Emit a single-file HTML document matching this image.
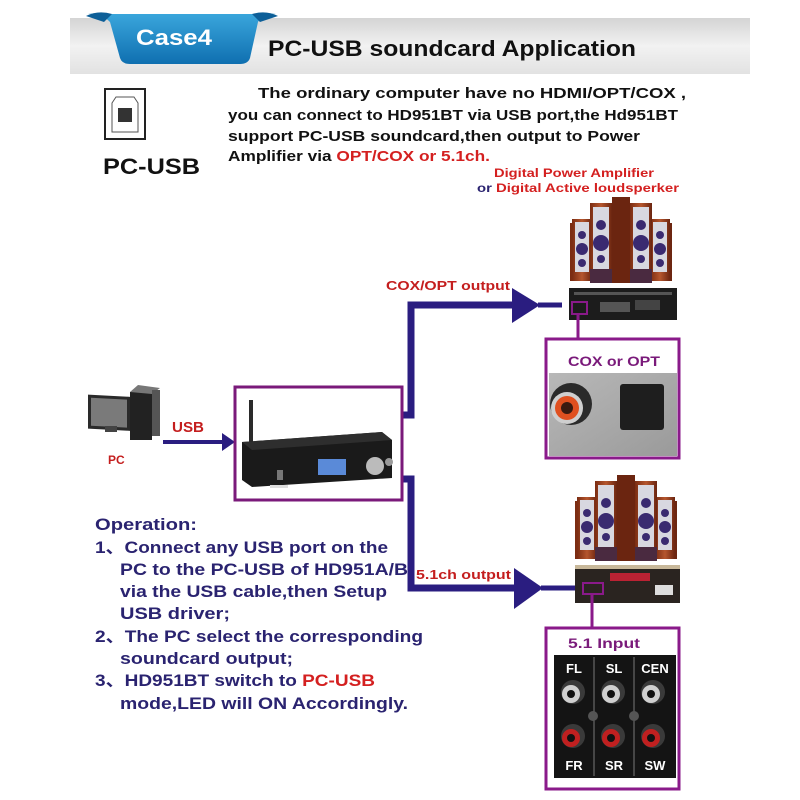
<!DOCTYPE html>
<html><head><meta charset="utf-8"><style>html,body{margin:0;padding:0;background:#fff}svg{display:block}</style></head><body>
<svg width="800" height="800" viewBox="0 0 800 800" xmlns="http://www.w3.org/2000/svg" font-family="'Liberation Sans', 'Noto Sans CJK SC', sans-serif" font-weight="bold">
<defs>
<linearGradient id="hdr" x1="0" y1="0" x2="0" y2="1"><stop offset="0" stop-color="#d4d4d4"/><stop offset="0.5" stop-color="#f2f2f2"/><stop offset="1" stop-color="#e2e2e2"/></linearGradient>
<linearGradient id="tab" x1="0" y1="0" x2="0" y2="1"><stop offset="0" stop-color="#3aa6dc"/><stop offset="1" stop-color="#0f6fb0"/></linearGradient>
<linearGradient id="wood" x1="0" y1="0" x2="1" y2="0"><stop offset="0" stop-color="#7a2c12"/><stop offset="0.5" stop-color="#b5562e"/><stop offset="1" stop-color="#6b2510"/></linearGradient>
<linearGradient id="metal" x1="0" y1="0" x2="1" y2="1"><stop offset="0" stop-color="#b8b8b8"/><stop offset="1" stop-color="#9a9a9a"/></linearGradient>
<g id="spk">
<rect x="0" y="26" width="102" height="58" fill="url(#wood)"/>
<rect x="42" y="0" width="18" height="86" fill="#6b2510"/>
<rect x="2" y="22" width="20" height="62" fill="url(#wood)"/><rect x="5" y="25" width="14" height="50" fill="#d8d8e0"/>
<rect x="80" y="22" width="20" height="62" fill="url(#wood)"/><rect x="83" y="25" width="14" height="50" fill="#d8d8e0"/>
<rect x="20" y="6" width="22" height="80" fill="url(#wood)"/><rect x="23" y="10" width="16" height="62" fill="#d8d8e0"/>
<rect x="60" y="6" width="22" height="80" fill="url(#wood)"/><rect x="63" y="10" width="16" height="62" fill="#d8d8e0"/>
<circle cx="12" cy="38" r="4" fill="#3a2a70"/><circle cx="12" cy="52" r="6" fill="#3a2a70"/><circle cx="12" cy="66" r="4" fill="#3a2a70"/>
<circle cx="90" cy="38" r="4" fill="#3a2a70"/><circle cx="90" cy="52" r="6" fill="#3a2a70"/><circle cx="90" cy="66" r="4" fill="#3a2a70"/>
<circle cx="31" cy="28" r="5" fill="#3a2a70"/><circle cx="31" cy="46" r="8" fill="#3a2a70"/><circle cx="31" cy="62" r="4" fill="#3a2a70"/>
<circle cx="71" cy="28" r="5" fill="#3a2a70"/><circle cx="71" cy="46" r="8" fill="#3a2a70"/><circle cx="71" cy="62" r="4" fill="#3a2a70"/>
<rect x="20" y="72" width="22" height="14" fill="#4a2a40"/><rect x="60" y="72" width="22" height="14" fill="#4a2a40"/>
</g>
</defs>

<rect x="70" y="18" width="680" height="56" fill="url(#hdr)"/>
<path d="M88 14 Q100 12 110 22 L120 58 Q122 64 130 64 L240 64 Q248 64 250 58 L258 22 Q264 12 276 14 Z" fill="url(#tab)"/>
<path d="M86 16 Q98 10 112 14 L104 22 Z M278 16 Q266 10 252 14 L260 22 Z" fill="#0d5f98"/>
<text x="136" y="45" font-size="22" fill="#fff" textLength="76" lengthAdjust="spacingAndGlyphs">Case4</text>
<text x="268" y="56" font-size="22" fill="#111" textLength="368" lengthAdjust="spacingAndGlyphs">PC-USB soundcard Application</text>

<rect x="105" y="89" width="40" height="50" fill="#fff" stroke="#222" stroke-width="2"/>
<path d="M116 97 L134 97 L138 103 L138 132 L112 132 L112 103 Z" fill="none" stroke="#555" stroke-width="1"/>
<rect x="118" y="108" width="14" height="14" fill="#333"/>
<text x="103" y="174" font-size="22" fill="#111" textLength="97" lengthAdjust="spacingAndGlyphs">PC-USB</text>

<g font-size="15" fill="#111">
<text x="258" y="98" textLength="428" lengthAdjust="spacingAndGlyphs">The ordinary computer have no HDMI/OPT/COX ,</text>
<text x="228" y="120" textLength="450" lengthAdjust="spacingAndGlyphs">you can connect to HD951BT via USB port,the Hd951BT</text>
<text x="228" y="141" textLength="412" lengthAdjust="spacingAndGlyphs">support PC-USB soundcard,then output to Power</text>
<text x="228" y="161" textLength="262" lengthAdjust="spacingAndGlyphs">Amplifier via <tspan fill="#d42020">OPT/COX or 5.1ch.</tspan></text>
</g>
<text x="494" y="177" font-size="12" fill="#d42020" textLength="160" lengthAdjust="spacingAndGlyphs">Digital Power Amplifier</text>
<text x="477" y="192" font-size="12" fill="#d42020" textLength="202" lengthAdjust="spacingAndGlyphs"><tspan fill="#2a2370">or</tspan> Digital  Active loudsperker</text>

<use href="#spk" x="570" y="197"/>
<rect x="569" y="288" width="108" height="32" fill="#1c1c1c"/>
<rect x="574" y="292" width="98" height="3" fill="#555"/>
<rect x="600" y="302" width="30" height="10" fill="#555"/>
<rect x="635" y="300" width="25" height="10" fill="#444"/>
<rect x="572" y="302" width="15" height="12" fill="none" stroke="#8a1a8a" stroke-width="2"/>
<line x1="578" y1="314" x2="578" y2="339" stroke="#8a1a8a" stroke-width="3"/>

<rect x="546" y="339" width="133" height="119" fill="#fff" stroke="#8a1a8a" stroke-width="3"/>
<text x="568" y="366" font-size="14" fill="#7a1a7a" textLength="92" lengthAdjust="spacingAndGlyphs">COX or OPT</text>
<rect x="549" y="373" width="128" height="83" fill="url(#metal)"/>
<circle cx="571" cy="404" r="21" fill="#2a2a2a"/>
<circle cx="567" cy="408" r="16" fill="#cfcfcf"/>
<circle cx="567" cy="408" r="12" fill="#e05020"/>
<circle cx="567" cy="408" r="6" fill="#3a1a10"/>
<rect x="620" y="384" width="44" height="46" rx="3" fill="#1e1e1e"/>

<path d="M402 415 L411 415 L411 305 L512 305" fill="none" stroke="#2a1d80" stroke-width="7"/>
<path d="M512 288 L540 305 L512 323 Z" fill="#2a1d80"/>
<line x1="538" y1="305" x2="562" y2="305" stroke="#2a1d80" stroke-width="5"/>
<text x="386" y="290" font-size="13" fill="#c41e1e" textLength="124" lengthAdjust="spacingAndGlyphs">COX/OPT output</text>

<path d="M402 479 L411 479 L411 588 L514 588" fill="none" stroke="#2a1d80" stroke-width="7"/>
<path d="M514 568 L543 588 L514 609 Z" fill="#2a1d80"/>
<line x1="541" y1="588" x2="576" y2="588" stroke="#2a1d80" stroke-width="5"/>
<text x="416" y="579" font-size="13" fill="#c41e1e" textLength="95" lengthAdjust="spacingAndGlyphs">5.1ch output</text>

<use href="#spk" x="575" y="475"/>
<rect x="575" y="565" width="105" height="38" fill="#2a2420"/>
<rect x="575" y="565" width="105" height="4" fill="#c8b89a"/>
<rect x="610" y="573" width="40" height="8" fill="#b23"/>
<rect x="655" y="585" width="18" height="10" fill="#ddd"/>
<rect x="583" y="583" width="20" height="11" fill="none" stroke="#8a1a8a" stroke-width="2"/>
<line x1="592" y1="594" x2="592" y2="628" stroke="#8a1a8a" stroke-width="3"/>

<rect x="546" y="628" width="133" height="161" fill="#fff" stroke="#8a1a8a" stroke-width="3"/>
<text x="568" y="648" font-size="14" fill="#7a1a7a" textLength="72" lengthAdjust="spacingAndGlyphs">5.1 Input</text>
<rect x="554" y="655" width="122" height="123" fill="#141414"/>
<line x1="594" y1="657" x2="594" y2="776" stroke="#777" stroke-width="1"/>
<line x1="634" y1="657" x2="634" y2="776" stroke="#777" stroke-width="1"/>
<g font-size="13" fill="#fff" text-anchor="middle">
<text x="574" y="673">FL</text><text x="614" y="673">SL</text><text x="655" y="673">CEN</text>
<text x="574" y="770">FR</text><text x="614" y="770">SR</text><text x="655" y="770">SW</text>
</g>
<g>
<circle cx="573" cy="692" r="12" fill="#3a3a3a"/><circle cx="571" cy="694" r="9" fill="#d0d0d0"/><circle cx="571" cy="694" r="4" fill="#111"/>
<circle cx="613" cy="692" r="12" fill="#3a3a3a"/><circle cx="611" cy="694" r="9" fill="#d0d0d0"/><circle cx="611" cy="694" r="4" fill="#111"/>
<circle cx="653" cy="692" r="12" fill="#3a3a3a"/><circle cx="651" cy="694" r="9" fill="#d0d0d0"/><circle cx="651" cy="694" r="4" fill="#111"/>
<circle cx="573" cy="736" r="12" fill="#3a3a3a"/><circle cx="571" cy="738" r="9" fill="#c02020"/><circle cx="571" cy="738" r="4" fill="#111"/>
<circle cx="613" cy="736" r="12" fill="#3a3a3a"/><circle cx="611" cy="738" r="9" fill="#c02020"/><circle cx="611" cy="738" r="4" fill="#111"/>
<circle cx="653" cy="736" r="12" fill="#3a3a3a"/><circle cx="651" cy="738" r="9" fill="#c02020"/><circle cx="651" cy="738" r="4" fill="#111"/>
<circle cx="593" cy="716" r="5" fill="#555"/><circle cx="634" cy="716" r="5" fill="#555"/>
</g>

<rect x="88" y="390" width="42" height="34" fill="#2a2a2a" transform="skewY(3)"/>
<rect x="91" y="393" width="36" height="28" fill="#7a7a7a" transform="skewY(3)"/>
<rect x="130" y="392" width="22" height="48" fill="#222"/>
<path d="M130 392 L138 385 L160 388 L152 394 Z" fill="#777"/>
<rect x="152" y="390" width="8" height="46" fill="#555"/>
<rect x="78" y="429" width="52" height="10" fill="#333" transform="skewX(-20)"/>
<rect x="105" y="426" width="12" height="6" fill="#444"/>
<text x="108" y="464" font-size="12" fill="#c41e1e">PC</text>
<text x="172" y="432" font-size="15" fill="#c41e1e" textLength="32" lengthAdjust="spacingAndGlyphs">USB</text>
<line x1="163" y1="442" x2="224" y2="442" stroke="#2a1d80" stroke-width="4"/>
<path d="M222 433 L235 442 L222 451 Z" fill="#2a1d80"/>

<rect x="235" y="387" width="167" height="113" fill="#fff" stroke="#7a1a7a" stroke-width="3"/>
<rect x="249" y="400" width="4" height="42" fill="#2a2a2a"/>
<path d="M242 442 L382 432 L392 440 L392 478 L252 487 L242 480 Z" fill="#1a1a1a"/>
<path d="M242 442 L382 432 L392 440 L252 450 Z" fill="#2e2e2e"/>
<rect x="318" y="459" width="28" height="16" fill="#5a8ad8"/>
<circle cx="375" cy="466" r="9" fill="#bbb"/>
<circle cx="389" cy="462" r="4" fill="#999"/>
<rect x="277" y="470" width="6" height="10" fill="#777"/>
<rect x="270" y="485" width="18" height="3" fill="#ddd"/>

<g font-size="17" fill="#2a2370">
<text x="95" y="530" textLength="102" lengthAdjust="spacingAndGlyphs">Operation:</text>
<text x="95" y="553" textLength="293" lengthAdjust="spacingAndGlyphs">1、Connect any USB port on the</text>
<text x="120" y="575" textLength="288" lengthAdjust="spacingAndGlyphs">PC to the PC-USB of HD951A/B</text>
<text x="120" y="597" textLength="267" lengthAdjust="spacingAndGlyphs">via the USB cable,then Setup</text>
<text x="120" y="619" textLength="110" lengthAdjust="spacingAndGlyphs">USB  driver;</text>
<text x="95" y="642" textLength="328" lengthAdjust="spacingAndGlyphs">2、The PC select the corresponding</text>
<text x="120" y="664" textLength="173" lengthAdjust="spacingAndGlyphs">soundcard output;</text>
<text x="95" y="686" textLength="280" lengthAdjust="spacingAndGlyphs">3、HD951BT switch to <tspan fill="#d42020">PC-USB</tspan></text>
<text x="120" y="709" textLength="288" lengthAdjust="spacingAndGlyphs">mode,LED will ON Accordingly.</text>
</g>
</svg>
</body></html>
